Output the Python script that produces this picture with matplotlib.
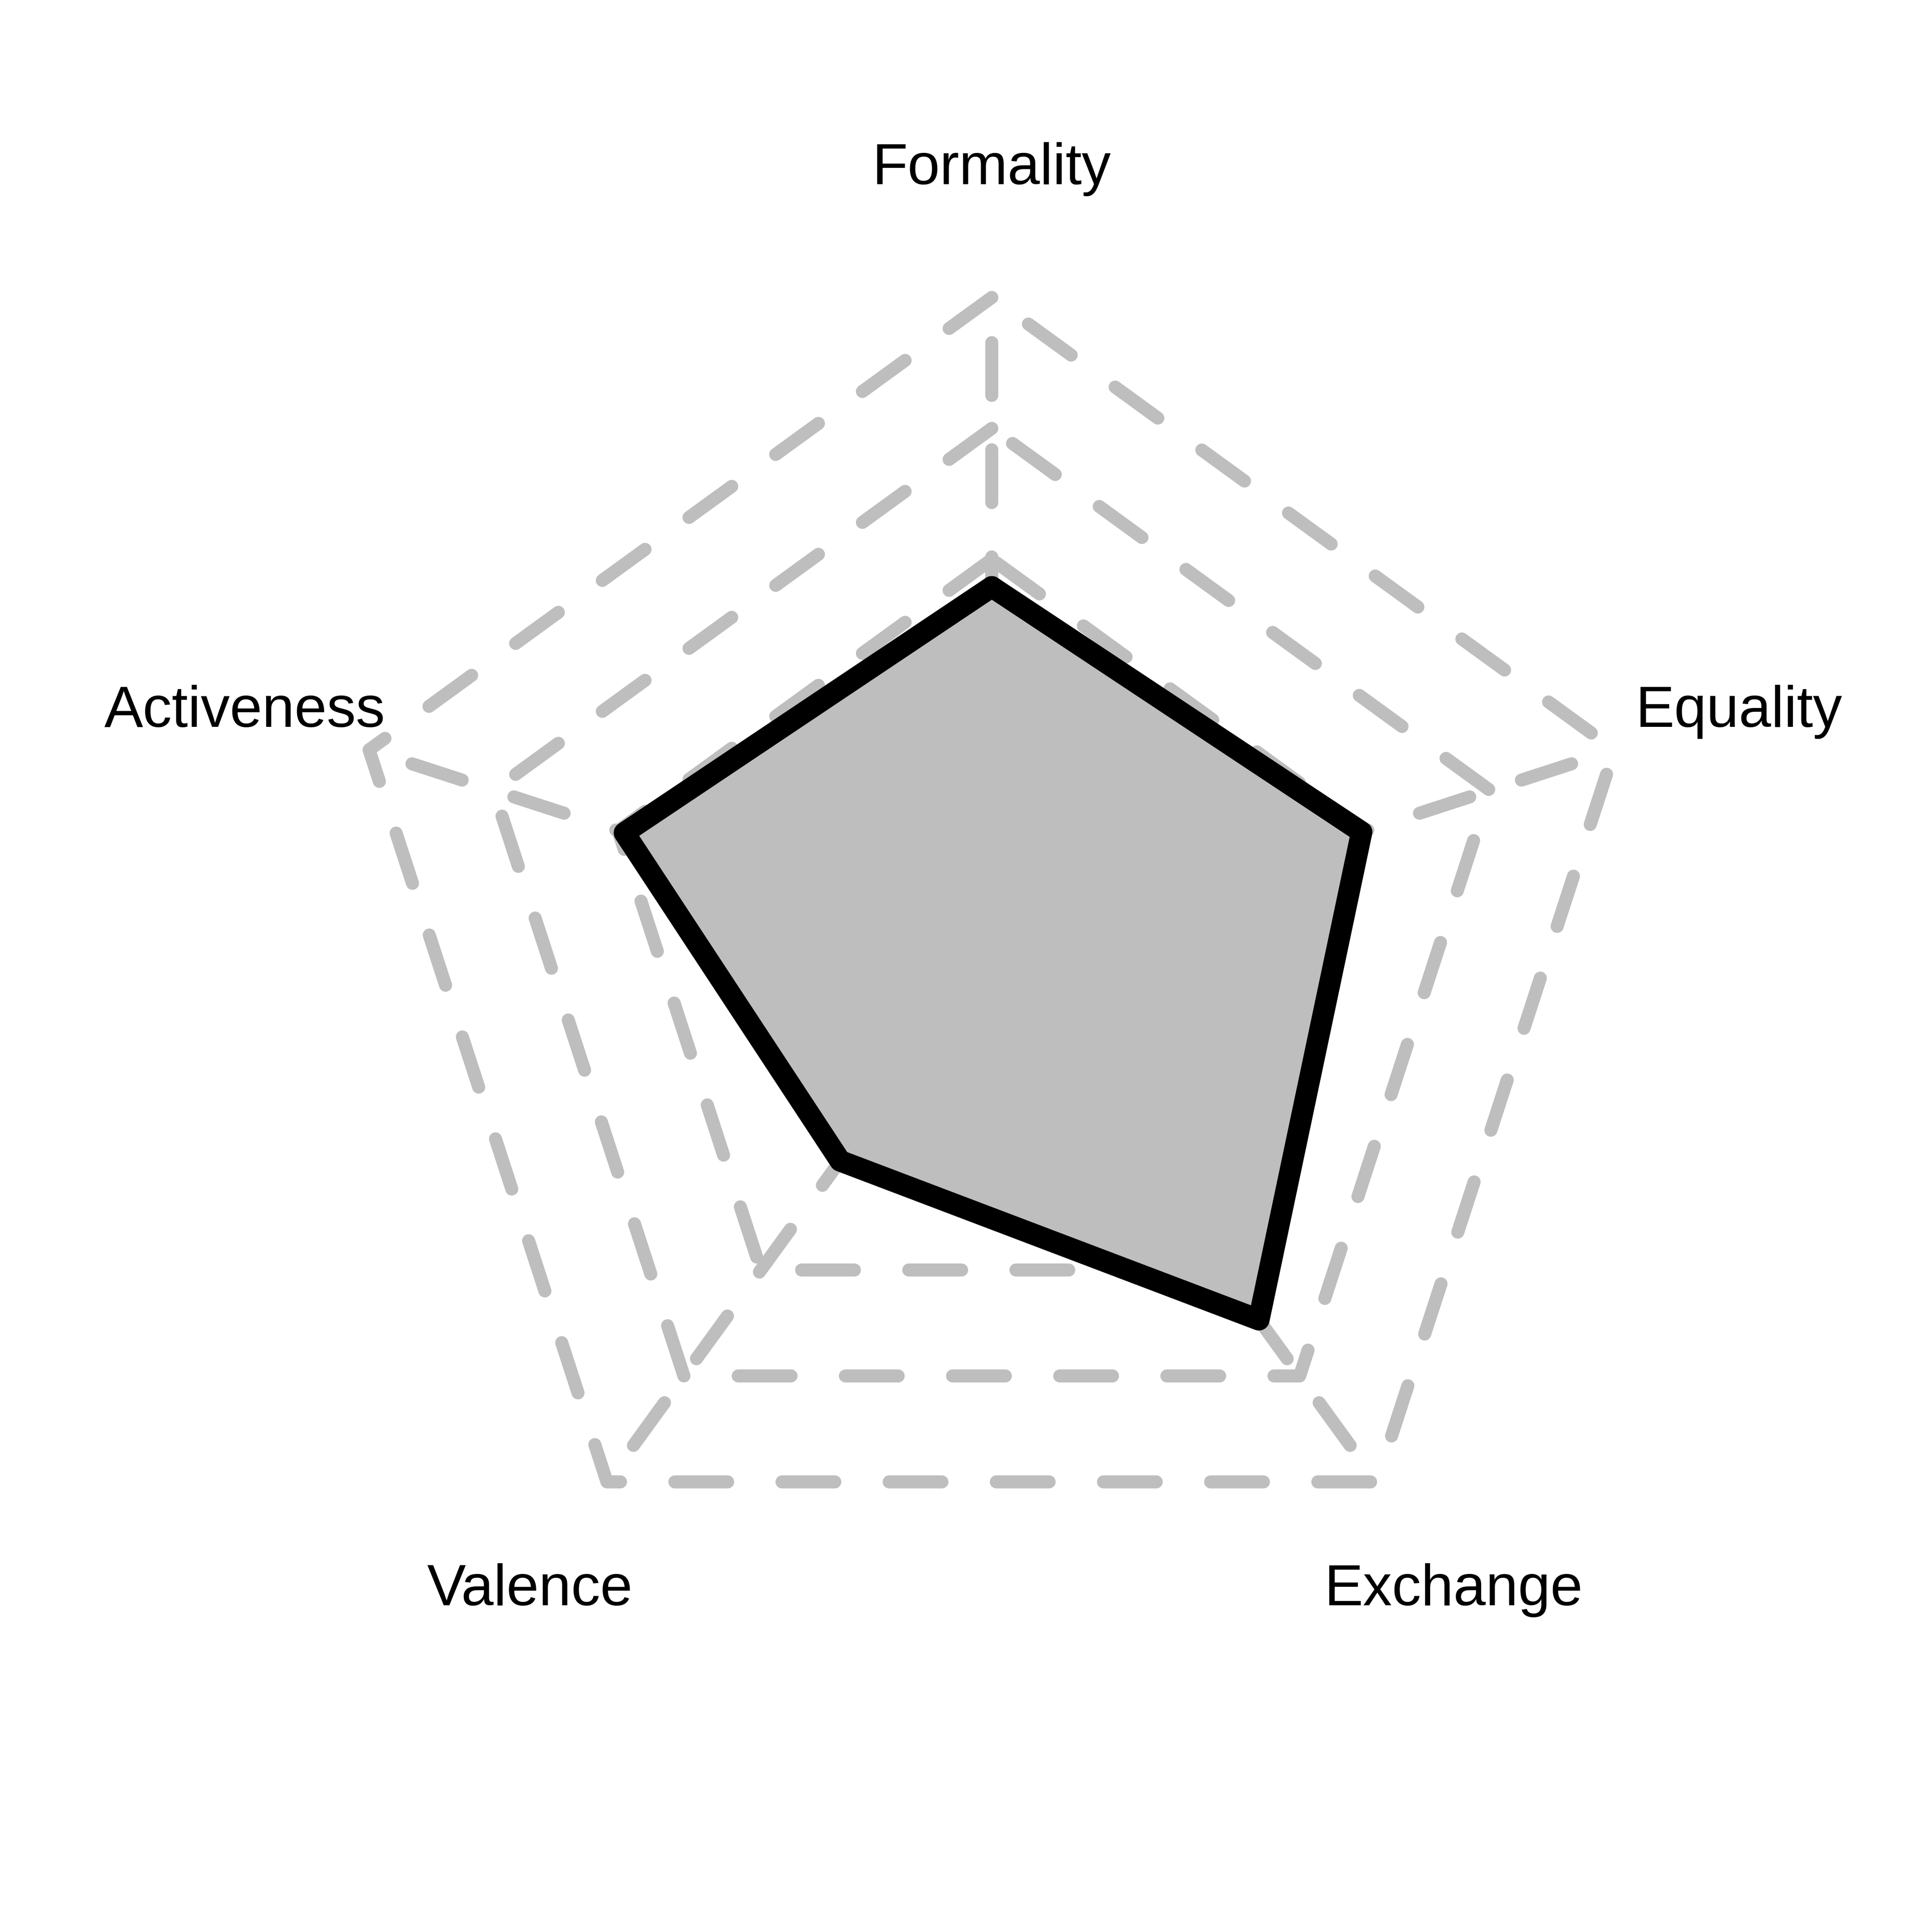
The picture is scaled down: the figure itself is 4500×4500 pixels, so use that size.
import numpy as np
import matplotlib
matplotlib.use('Agg')
import matplotlib.pyplot as plt

# axes of the radar, anticlockwise from the top (same order the polygon is drawn)
labels = ['Formality', 'Activeness', 'Valence', 'Exchange', 'Equality']
scores = [2.79, 2.95, 1.97, 3.47, 2.97]
# radii of the dashed reference pentagons and of the axis labels
grid_levels = [3, 4, 5]
label_radius = 6.0

GRAY = '#BEBEBE'


def main():
    plt.rcParams['font.family'] = ['Liberation Sans', 'DejaVu Sans']
    plt.rcParams['lines.scale_dashes'] = False

    n = len(labels)
    theta = np.linspace(0, 2 * np.pi, n, endpoint=False)
    closed_theta = np.append(theta, theta[0])
    closed_scores = np.append(scores, scores[0])

    fig = plt.figure(figsize=(15, 15), dpi=300)
    ax = fig.add_axes([0.0389, 0.0327, 0.9489, 0.9489], projection='polar')
    ax.set_theta_offset(np.pi / 2)
    ax.set_ylim(0, 7)

    dash = (29.5, 30.4)
    # dashed pentagons
    for lvl in grid_levels:
        ax.plot(closed_theta, [lvl] * (n + 1), color=GRAY, lw=7.3,
                linestyle=(0, dash), dash_capstyle='round',
                dash_joinstyle='round', zorder=1)
    # dashed spokes
    for t in theta:
        ax.plot([t, t], [0, grid_levels[-1]], color=GRAY, lw=7.3,
                linestyle=(48.1, dash), dash_capstyle='round', zorder=1)

    # the data polygon
    ax.fill(closed_theta, closed_scores, color=GRAY, lw=0, zorder=3)
    ax.plot(closed_theta, closed_scores, color='black', lw=12,
            solid_joinstyle='round', solid_capstyle='round', zorder=4)

    # axis labels, caps centred on the label radius
    for t, lab in zip(theta, labels):
        ax.annotate(lab, xy=(t, label_radius), xytext=(0, -9.8),
                    textcoords='offset points', ha='center', va='baseline',
                    fontsize=32.5, color='black')

    ax.grid(False)
    ax.set_xticks([])
    ax.set_yticks([])
    ax.spines['polar'].set_visible(False)
    ax.patch.set_visible(False)

    fig.savefig('out.png', dpi=300, facecolor='white')


if __name__ == '__main__':
    main()
